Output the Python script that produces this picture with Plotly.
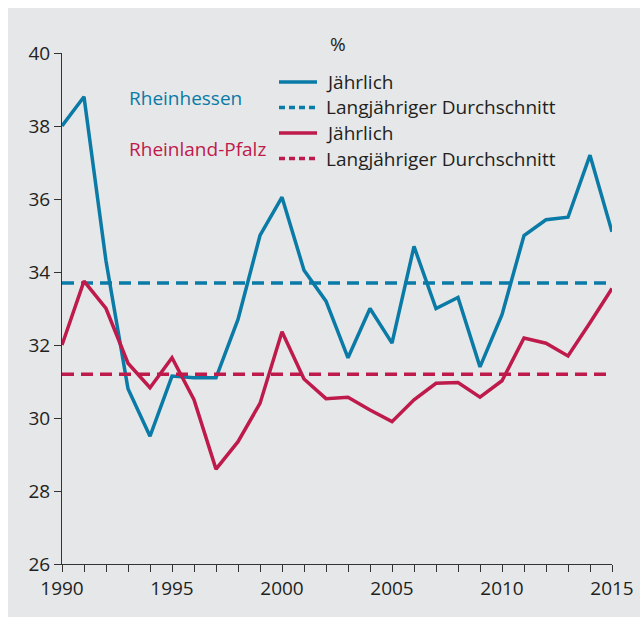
import plotly.graph_objects as go

years = list(range(1990, 2016))
rheinhessen = [38.0, 38.8, 34.3, 30.8, 29.5, 31.15, 31.1, 31.1, 32.7, 35.0, 36.05, 34.05,
               33.2, 31.65, 33.0, 32.05, 34.7, 33.0, 33.3, 31.4, 32.83, 35.0, 35.43, 35.5,
               37.2, 35.1]
rheinland_pfalz = [32.0, 33.75, 33.0, 31.5, 30.83, 31.65, 30.5, 28.6, 29.35, 30.4, 32.36, 31.07,
                   30.53, 30.57, 30.22, 29.9, 30.5, 30.95, 30.97, 30.57, 31.02, 32.19, 32.05, 31.7,
                   32.61, 33.55]
avg_rheinhessen = 33.7
avg_rlp = 31.2
x_tick_labels = ["1990", "1995", "2000", "2005", "2010", "2015"]
y_tick_vals = [26, 28, 30, 32, 34, 36, 38, 40]
legend_labels = ["Jährlich", "Langjähriger Durchschnitt", "Jährlich", "Langjähriger Durchschnitt"]
group_labels = ["Rheinhessen", "Rheinland-Pfalz"]

BLUE = "#0a7aa6"
RED = "#be1a4b"
TXT = "#231f20"
BG = "#e6e7e9"
FONT = "Open Sans"
FS = 19

fig = go.Figure()
fig.add_trace(go.Scatter(x=years, y=rheinhessen, mode="lines", name=legend_labels[0],
                         line=dict(color=BLUE, width=3.5)))
fig.add_trace(go.Scatter(x=[years[0], years[-1]], y=[avg_rheinhessen] * 2, mode="lines",
                         name=legend_labels[1],
                         line=dict(color=BLUE, width=3.5, dash="12px,7px")))
fig.add_trace(go.Scatter(x=years, y=rheinland_pfalz, mode="lines", name=legend_labels[2],
                         line=dict(color=RED, width=3.5)))
fig.add_trace(go.Scatter(x=[years[0], years[-1]], y=[avg_rlp] * 2, mode="lines",
                         name=legend_labels[3],
                         line=dict(color=RED, width=3.5, dash="12px,7px")))

# page keeps the 8px left/top body margin (white border), right/bottom margins removed
OFF = 8
W, H = 640 - OFF, 617 - OFF
X0, X1, Y0, Y1 = 62, 612, 53, 564   # plot-area edges in page pixels
L, R, T, B = X0 - OFF, W - (X1 - OFF), Y0 - OFF, H - (Y1 - OFF)
pw, ph = W - L - R, H - T - B

def px(xp):
    return (xp - OFF - L) / pw

def py(yp):
    return (H - B - (yp - OFF)) / ph

# group labels
for lab, col, yy in zip(group_labels, [BLUE, RED], [98, 149]):
    fig.add_annotation(text=lab, xref="paper", yref="paper", x=px(127), y=py(yy),
                       xanchor="left", yanchor="middle", showarrow=False,
                       font=dict(color=col, size=FS, family=FONT))

fig.add_annotation(text="%", xref="paper", yref="paper", x=px(328), y=py(44),
                   xanchor="left", yanchor="middle", showarrow=False,
                   font=dict(color=TXT, size=FS, family=FONT))

# manual legend
leg_rows = [82, 107.5, 133, 158.5]
leg_cols = [BLUE, BLUE, RED, RED]
leg_dash = ["solid", "6px,4px", "solid", "6px,4px"]
for lab, col, dsh, yy in zip(legend_labels, leg_cols, leg_dash, leg_rows):
    fig.add_shape(type="line", xref="paper", yref="paper", x0=px(279), x1=px(317),
                  y0=py(yy), y1=py(yy), line=dict(color=col, width=3.5, dash=dsh))
    fig.add_annotation(text=lab, xref="paper", yref="paper", x=px(324), y=py(yy),
                       xanchor="left", yanchor="middle", showarrow=False,
                       font=dict(color=TXT, size=FS, family=FONT))

fig.update_layout(
    width=W, height=H,
    margin=dict(l=L, r=R, t=T, b=B, autoexpand=False),
    paper_bgcolor=BG, plot_bgcolor=BG,
    font=dict(family=FONT, size=FS, color=TXT),
    showlegend=False,
    xaxis=dict(range=[1990, 2015], tickvals=[int(t) for t in x_tick_labels], ticktext=x_tick_labels,
               showgrid=False, zeroline=False, showline=True, linecolor="#333", linewidth=1,
               ticks="outside", ticklen=7, tickcolor="#333", automargin=False,
               minor=dict(dtick=1, ticks="outside", ticklen=7, tickcolor="#333", showgrid=False)),
    yaxis=dict(range=[26, 40], tickvals=y_tick_vals, showgrid=False, zeroline=False,
               showline=True, linecolor="#333", linewidth=1, automargin=False,
               ticks="outside", ticklen=7, tickcolor="#333"),
)

page_css = ("document.body.style.marginRight='0';document.body.style.marginBottom='0';"
            "document.documentElement.style.overflow='hidden';")

fig.write_html("out.html", config={"displayModeBar": False}, post_script=page_css)
